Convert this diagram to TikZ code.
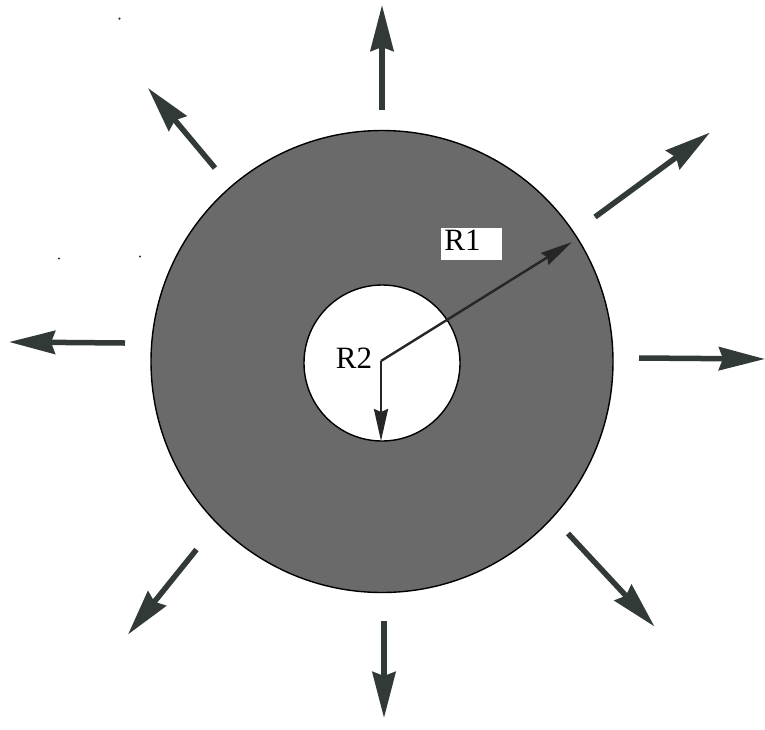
\documentclass[tikz,border=0pt]{standalone}
\usepackage{fontspec}
\setmainfont{Liberation Serif}
\usetikzlibrary{arrows.meta}
\definecolor{arrowgray}{HTML}{323A37}
\definecolor{ringgray}{HTML}{6A6A6A}
\begin{document}
\begin{tikzpicture}[x=1pt,y=-1pt,
  flow/.style={line width=5.5pt, draw=arrowgray, -{Stealth[length=46pt,width=23pt,inset=4pt,fill=arrowgray]}},
  radius arrow/.style={line width=2.4pt, draw=black!85, -{Stealth[length=32pt,width=14pt,inset=3pt]}},
  lbl/.style={inner sep=0pt, font=\fontsize{31}{31}\selectfont}]
\useasboundingbox (0,0) rectangle (765,729);
\fill[white] (0,0) rectangle (765,729);
% ring
\coordinate (co) at (382,361.5);
\coordinate (ci) at (382,363);
\fill[ringgray, draw=black, line width=1.4pt] (co) circle (231);
\fill[white, draw=black, line width=1.4pt] (ci) circle (78);
% label box
\node (r1box) [fill=white, minimum width=61pt, minimum height=32pt, inner sep=0pt] at (471.5,244) {};
\node (r1) [lbl] at (462.5,240.5) {R1};
\node (r2) [lbl] at (354,358) {R2};
% radii
\coordinate (o) at (381,361);
\coordinate (p1) at (572,242);
\coordinate (p2) at (381,441);
\draw[radius arrow] (o) -- (p1);
\draw[radius arrow] (o) -- (p2);
% outward arrows
\coordinate (nT) at (382,110); \coordinate (nH) at (382,5);
\coordinate (nwT) at (215,168); \coordinate (nwH) at (148,88);
\coordinate (neT) at (595,217); \coordinate (neH) at (710,132.5);
\coordinate (wT) at (125,343); \coordinate (wH) at (9,342);
\coordinate (eT) at (639,358); \coordinate (eH) at (765,359);
\coordinate (swT) at (196.5,549.5); \coordinate (swH) at (128,634.5);
\coordinate (sT) at (384,621); \coordinate (sH) at (384,718);
\coordinate (seT) at (568,533.5); \coordinate (seH) at (654.5,626.5);
\draw[flow] (nT) -- (nH);
\draw[flow] (nwT) -- (nwH);
\draw[flow] (neT) -- (neH);
\draw[flow] (wT) -- (wH);
\draw[flow] (eT) -- (eH);
\draw[flow] (swT) -- (swH);
\draw[flow] (sT) -- (sH);
\draw[flow] (seT) -- (seH);
% specks
\coordinate (d1) at (119.5,18.6);
\coordinate (d2) at (59,258.5);
\coordinate (d3) at (140,256.5);
\fill[black!80] (d1) circle (1.2);
\fill[black!80] (d2) circle (1.2);
\fill[black!80] (d3) circle (1.2);
\end{tikzpicture}
\end{document}
